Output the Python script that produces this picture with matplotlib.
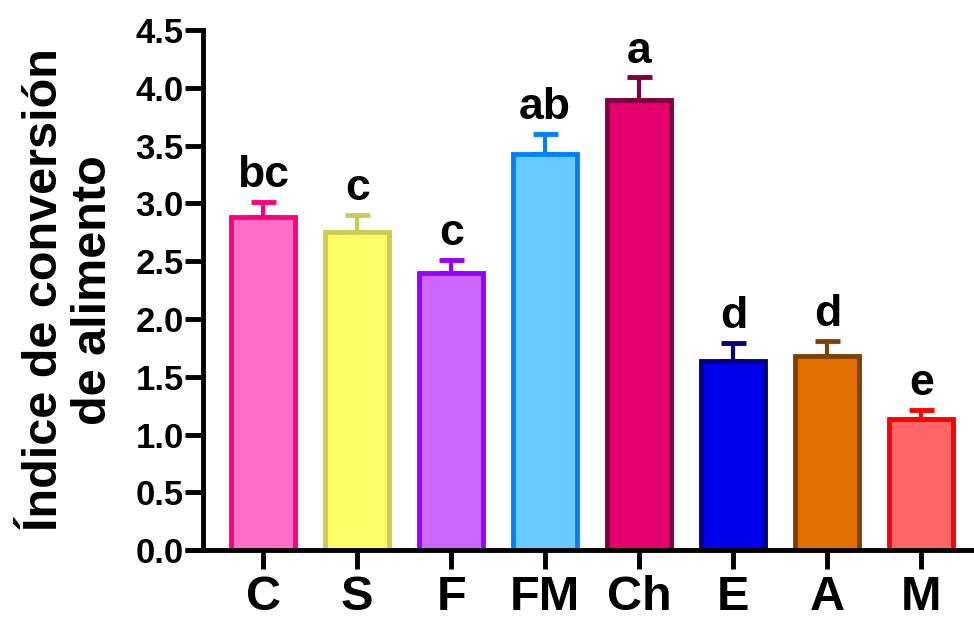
import matplotlib.pyplot as plt

plt.rcParams['font.family'] = ['Liberation Sans', 'DejaVu Sans']
plt.rcParams['font.weight'] = 'bold'

groups = ['C', 'S', 'F', 'FM', 'Ch', 'E', 'A', 'M']
values = [2.88, 2.75, 2.40, 3.43, 3.89, 1.64, 1.68, 1.13]
errors = [0.13, 0.15, 0.11, 0.17, 0.20, 0.15, 0.13, 0.08]
letters = ['bc', 'c', 'c', 'ab', 'a', 'd', 'd', 'e']
face_colors = ['#FF6EC7', '#FFFF66', '#CC66FF', '#66CCFF', '#E6006E', '#0000EE', '#E07000', '#FF6666']
edge_colors = ['#FF0080', '#CCCC55', '#9900FF', '#0080FF', '#800040', '#000080', '#804000', '#FF0000']

fig = plt.figure(figsize=(9.74, 6.23), dpi=100)
ax = fig.add_axes([0.2084, 0.117, 0.7916, 0.835])

x = range(len(groups))
for i in x:
    ax.bar(i, values[i], width=0.68, color=face_colors[i], edgecolor=edge_colors[i],
           linewidth=3.5, zorder=2)
    ax.errorbar(i, values[i], yerr=[[0], [errors[i]]], color=edge_colors[i],
                elinewidth=3, capsize=9, capthick=3.5, zorder=1)
    ax.text(i, values[i] + errors[i] + 0.05, letters[i], ha='center', va='bottom',
            fontsize=32, fontweight='bold')

ax.set_xlim(-0.64, 7.56)
ax.set_ylim(0, 4.5)
ax.set_yticks([0, 0.5, 1, 1.5, 2, 2.5, 3, 3.5, 4, 4.5])
ax.set_yticklabels(['0.0', '0.5', '1.0', '1.5', '2.0', '2.5', '3.0', '3.5', '4.0', '4.5'])
ax.set_xticks(list(x))
ax.set_xticklabels(groups)

for s in ['top', 'right']:
    ax.spines[s].set_visible(False)
ax.spines['left'].set_linewidth(3.5)
ax.spines['bottom'].set_linewidth(3.5)
ax.tick_params(axis='y', length=13, width=3.5, labelsize=25, pad=1)
ax.tick_params(axis='x', length=14, width=3.5, labelsize=35, pad=4)
for lab in ax.get_xticklabels() + ax.get_yticklabels():
    lab.set_fontweight('bold')

# x-axis line extends left past the y axis
ax.plot([-0.64 - 0.19, -0.64], [0, 0], color='black', linewidth=3.5, clip_on=False,
        solid_capstyle='butt')

ax.set_ylabel('Índice de conversión\nde alimento', fontsize=35, fontweight='bold',
              linespacing=1.1, labelpad=14)

fig.savefig('out.png', dpi=100)
